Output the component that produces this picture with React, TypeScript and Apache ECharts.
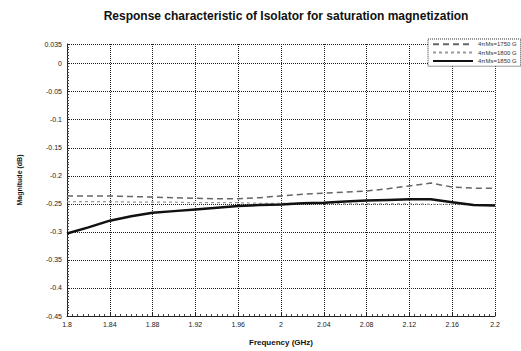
import React, { useEffect, useRef } from "react";
import * as echarts from "echarts";

const freqs = [1.8, 1.82, 1.84, 1.86, 1.88, 1.9, 1.92, 1.94, 1.96, 1.98, 2.0, 2.02, 2.04, 2.06, 2.08, 2.1, 2.12, 2.14, 2.16, 2.18, 2.2];
const seriesNames = ["4πMs=1750 G", "4πMs=1800 G", "4πMs=1850 G"];
const valuesA = [-0.236, -0.236, -0.236, -0.237, -0.238, -0.239, -0.24, -0.241, -0.241, -0.239, -0.236, -0.233, -0.231, -0.229, -0.227, -0.223, -0.218, -0.213, -0.22, -0.222, -0.222];
const valuesB = [-0.246, -0.246, -0.246, -0.247, -0.247, -0.247, -0.248, -0.248, -0.248, -0.249, -0.249, -0.249, -0.25, -0.25, -0.25, -0.25, -0.25, -0.251, -0.251, -0.252, -0.252];
const valuesC = [-0.303, -0.292, -0.28, -0.272, -0.266, -0.263, -0.26, -0.257, -0.254, -0.252, -0.251, -0.249, -0.248, -0.246, -0.244, -0.243, -0.242, -0.242, -0.247, -0.252, -0.253];

const pairs = (ys: number[]) => freqs.map((f, i) => [f, ys[i]]);

export default function App() {
  const ref = useRef<HTMLDivElement>(null);
  useEffect(() => {
    document.body.style.margin = "0";
    const chart = echarts.init(ref.current!, null, { renderer: "svg" });
    const font = "Liberation Sans";
    chart.setOption({
      animation: false,
      backgroundColor: "#fff",
      textStyle: { fontFamily: font },
      title: {
        text: "Response characteristic of Isolator for saturation magnetization",
        left: 281,
        textAlign: "center",
        top: 5,
        textStyle: { fontSize: 12, fontWeight: "bold", color: "#111", fontFamily: font },
      },
      legend: {
        orient: "vertical",
        left: 428,
        top: 39,
        itemWidth: 40,
        itemHeight: 8,
        itemGap: 2,
        padding: [2, 4],
        backgroundColor: "#fff",
        borderColor: "#333",
        borderWidth: 1,
        borderType: "dotted",
        itemStyle: { opacity: 0 },
        textStyle: { fontSize: 6, color: "#333", fontFamily: font },
        data: seriesNames,
      },
      grid: { left: 67, right: 26, top: 44, bottom: 33 },
      xAxis: {
        type: "value",
        min: 1.8,
        max: 2.2,
        interval: 0.04,
        name: "Frequency (GHz)",
        nameLocation: "middle",
        nameGap: 22,
        nameTextStyle: { fontSize: 8, fontWeight: "bold", color: "#111" },
        axisLine: { show: true, onZero: false, lineStyle: { color: "#222", width: 1 } },
        axisTick: { show: true, inside: true, length: 3, lineStyle: { color: "#222" } },
        minorTick: { show: true, splitNumber: 8, length: 2, lineStyle: { color: "#444" } },
        axisLabel: { fontSize: 7, color: "#222", margin: 5 },
        splitLine: { show: true, lineStyle: { type: "dotted", color: "#222", width: 1 } },
      },
      yAxis: {
        type: "value",
        min: -0.45,
        max: 0.035,
        interval: 0.05,
        name: "Magnitude (dB)",
        nameLocation: "middle",
        nameGap: 44,
        nameTextStyle: { fontSize: 7, fontWeight: "bold", color: "#111" },
        axisLine: { show: true, onZero: false, lineStyle: { color: "#222", width: 1 } },
        axisTick: { show: true, inside: true, length: 3, lineStyle: { color: "#222" } },
        minorTick: { show: true, splitNumber: 10, length: 2, lineStyle: { color: "#444" } },
        axisLabel: { fontSize: 7, color: "#222", margin: 5 },
        splitLine: { show: true, lineStyle: { type: "dotted", color: "#222", width: 1 } },
      },
      series: [
        {
          name: seriesNames[0],
          type: "line",
          data: pairs(valuesA),
          symbol: "none",
          lineStyle: { color: "#666", width: 1.5, type: [6, 4] },
          itemStyle: { color: "#666" },
        },
        {
          name: seriesNames[1],
          type: "line",
          data: pairs(valuesB),
          symbol: "none",
          lineStyle: { color: "#999", width: 1.2, type: [3, 3] },
          itemStyle: { color: "#999" },
        },
        {
          name: seriesNames[2],
          type: "line",
          data: pairs(valuesC),
          symbol: "none",
          lineStyle: { color: "#111", width: 2.5 },
          itemStyle: { color: "#111" },
        },
      ],
    });
    return () => chart.dispose();
  }, []);
  return <div ref={ref} style={{ width: 521, height: 351 }} />;
}
